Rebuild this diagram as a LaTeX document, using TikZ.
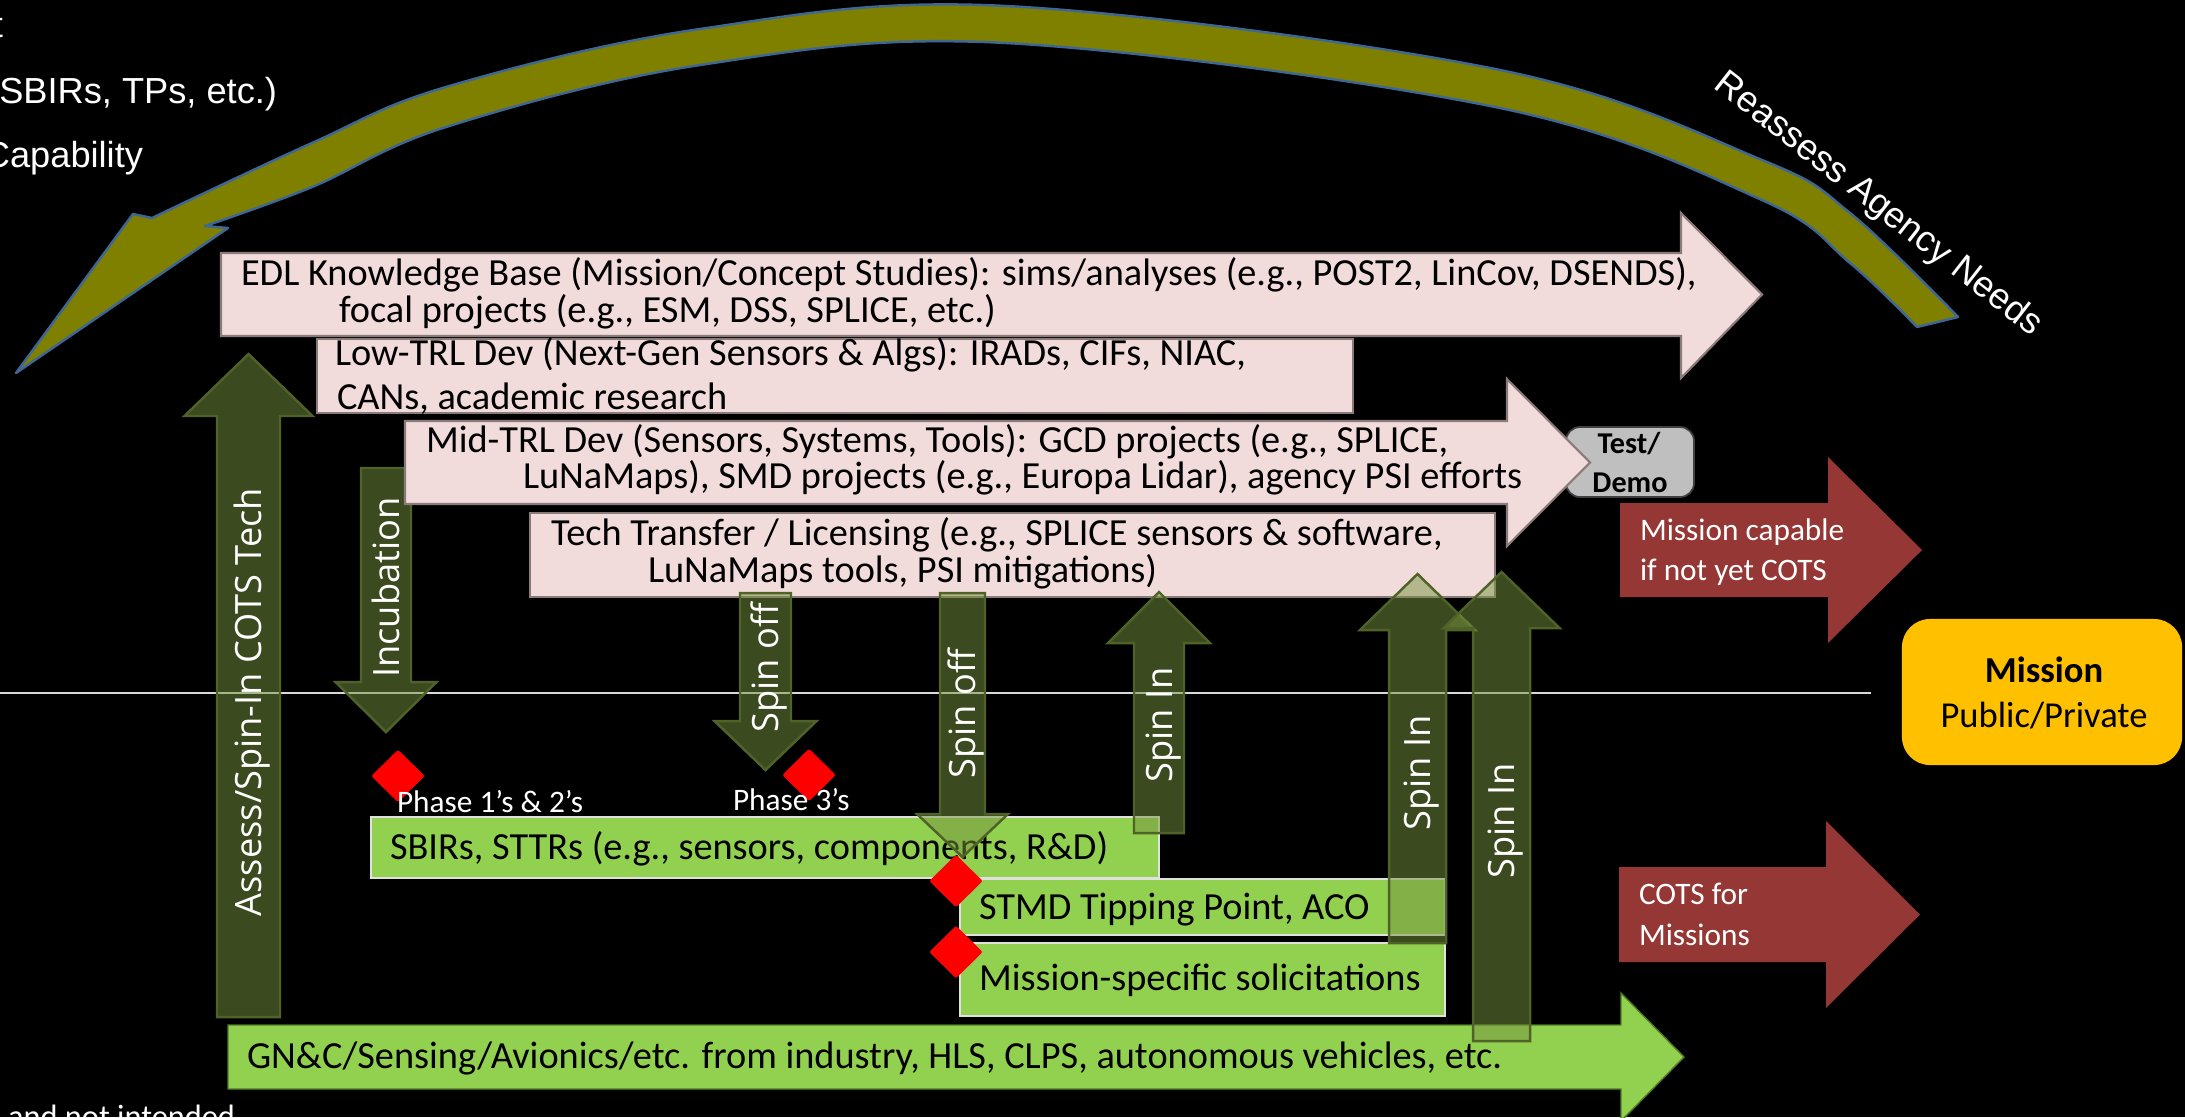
\documentclass[tikz,border=0pt]{standalone}
\usepackage{fontspec}
\setmainfont{Carlito}
\newfontfamily\arialf{Liberation Sans}
\newfontfamily\opensans{Open Sans}
\usetikzlibrary{shapes.geometric}
\definecolor{pinkf}{HTML}{F2DCDB}
\definecolor{pinkd}{HTML}{8A7A7A}
\definecolor{greenf}{HTML}{92D050}
\definecolor{greenl}{HTML}{E0E0E0}
\definecolor{greend}{HTML}{4F7A28}
\definecolor{olivef}{HTML}{78943F}
\definecolor{oliveb}{HTML}{4F6228}
\definecolor{arcf}{HTML}{808000}
\definecolor{arcb}{HTML}{3F6794}
\definecolor{redf}{HTML}{953735}
\definecolor{goldf}{HTML}{FFC000}
\definecolor{grayf}{HTML}{BFBFBF}
\definecolor{diamred}{HTML}{FF0000}
\newcommand\UpArr[7]{\path[#1] (#2-#3,#7) -- (#2-#3,#6) -- (#2-#4,#6) -- (#2,#5) -- (#2+#4,#6) -- (#2+#3,#6) -- (#2+#3,#7) -- cycle;}
\newcommand\DnArr[7]{\path[#1] (#2-#3,#5) -- (#2-#3,#6) -- (#2-#4,#6) -- (#2,#7) -- (#2+#4,#6) -- (#2+#3,#6) -- (#2+#3,#5) -- cycle;}
\newcommand\RtArr[8]{\path[#1] (#2,#3) -- (#5,#3) -- (#5,#6) -- (#8,{(#3+#4)/2}) -- (#5,#7) -- (#5,#4) -- (#2,#4) -- cycle;}
\tikzset{
 pinkbox/.style={fill=pinkf, draw=pinkd, line width=0.6pt},
 greenbox/.style={fill=greenf, draw=greenl, line width=0.6pt},
 greenarr/.style={fill=greenf, draw=greend, line width=0.4pt},
 redarr/.style={fill=redf},
 olivearr/.style={fill=olivef, fill opacity=0.5, draw=oliveb, line width=0.7pt},
 txt/.style={inner sep=0pt, outer sep=0pt, anchor=base west, font=\fontsize{10.9}{13}\selectfont},
 wtxt/.style={inner sep=0pt, outer sep=0pt, anchor=base west, text=white, font=\fontsize{8.9}{11}\selectfont},
 vlab/.style={inner sep=0pt, outer sep=0pt, anchor=base, rotate=90, text=white, font=\opensans\fontsize{10.3}{12}\selectfont},
 atxt/.style={inner sep=0pt, outer sep=0pt, anchor=base east, text=white, font=\arialf\fontsize{10.3}{12}\selectfont},
 redmark/.style={diamond, fill=diamred, inner sep=0pt, minimum width=0.54cm, minimum height=0.53cm, rounded corners=0.6pt},
}
\begin{document}
\begin{tikzpicture}[x=0.01cm, y=-0.01cm]
\useasboundingbox (0,0) rectangle (2185,1117);
\fill[black] (0,0) rectangle (2185,1117);
% divider line
\draw[white!85!black, line width=0.5pt] (0,693) -- (1871,693);
% big curved arrow
\path[fill=arcf, draw=arcb, line width=0.7pt, line join=round]
  (152,218) -- plot[smooth, tension=0.6] coordinates {(152,218) (312,143) (446,87) (700,29) (1006,6) (1500,70) (1762,160) (1850,213) (1958,317)}
  -- (1917,327)
  -- plot[smooth, tension=0.6] coordinates {(1917,327) (1850,263) (1762,200) (1500,108) (1006,43) (700,65) (446,127) (312,187) (205,226)}
  -- (228,228) -- (16,373) -- (133,214) -- cycle;
\node[atxt, anchor=center, rotate=-38] (reassess) at (1878,205) {Reassess Agency Needs};
% left cut-off texts
\node[atxt] (tcut) at (3,37) {t};
\node[atxt] (sbirtp) at (277,103) {(SBIRs, TPs, etc.)};
\node[atxt] (capab) at (143,167) {Capability};
\node[atxt, font=\fontsize{9.2}{11}\selectfont] (notint) at (235,1127) {e and not intended};
% incubation arrow (behind the mid-TRL box)
\DnArr{olivearr}{386}{25}{50.5}{468}{682}{732}
% pink items
\RtArr{pinkbox}{221}{253}{336}{1681}{213}{378}{1762}
\path[pinkbox] (317,339) rectangle (1353,413);
\node[draw=black!75, line width=0.5pt, fill=grayf, rounded corners=4pt, minimum width=1.28cm, minimum height=0.70cm, inner sep=0pt] (testdemo) at (1630,462) {};
\RtArr{pinkbox}{405}{421}{504}{1507}{379}{546}{1590}
\path[pinkbox] (530,513) rectangle (1495,597);
\node[txt] (edlA) at (241,285) {EDL Knowledge Base (Mission/Concept Studies): sims/analyses (e.g., POST2, LinCov, DSENDS),};
\node[txt] (edlB) at (339,322) {focal projects (e.g., ESM, DSS, SPLICE, etc.)};
\node[txt] (lowA) at (335,365) {Low-TRL Dev (Next-Gen Sensors \& Algs): IRADs, CIFs, NIAC,};
\node[txt] (lowB) at (337,409) {CANs, academic research};
\node[txt] (midA) at (426,452) {Mid-TRL Dev (Sensors, Systems, Tools): GCD projects (e.g., SPLICE,};
\node[txt] (midB) at (523,488) {LuNaMaps), SMD projects (e.g., Europa Lidar), agency PSI efforts};
\node[txt] (ttA) at (551,545) {Tech Transfer / Licensing (e.g., SPLICE sensors \& software,};
\node[txt] (ttB) at (648,582) {LuNaMaps tools, PSI mitigations)};
\node[inner sep=0pt, anchor=base, font=\bfseries\fontsize{8.6}{10}\selectfont] (tdA) at (1629,453) {Test/};
\node[inner sep=0pt, anchor=base, font=\bfseries\fontsize{8.6}{10}\selectfont] (tdB) at (1630,492) {Demo};
% green items
\path[greenbox] (371,817) rectangle (1159,878);
\path[greenbox] (960,879) rectangle (1445,935);
\path[greenbox] (960,943) rectangle (1445,1016);
\RtArr{greenarr}{228}{1025}{1089}{1621}{993}{1121}{1684}
\node[txt] (sbir) at (390,859) {SBIRs, STTRs (e.g., sensors, components, R\&D)};
\node[txt] (stmd) at (979,919) {STMD Tipping Point, ACO};
\node[txt] (msol) at (979,990) {Mission-specific solicitations};
\node[txt] (gnc) at (247,1068) {GN\&C/Sensing/Avionics/etc. from industry, HLS, CLPS, autonomous vehicles, etc.};
% red arrows
\RtArr{redarr}{1620}{503}{597}{1828}{457}{643}{1922}
\RtArr{redarr}{1619}{867}{962}{1826}{821}{1008}{1920}
\node[wtxt] (mcA) at (1640,540) {Mission capable};
\node[wtxt] (mcB) at (1640,580) {if not yet COTS};
\node[wtxt] (cfA) at (1639,904) {COTS for};
\node[wtxt] (cfB) at (1639,945) {Missions};
% mission box
\node[fill=goldf, rounded corners=8pt, minimum width=2.80cm, minimum height=1.46cm, inner sep=0pt] (mission) at (2042,692) {};
\node[inner sep=0pt, anchor=base, font=\bfseries\fontsize{10.4}{12}\selectfont] (misA) at (2044,682) {Mission};
\node[inner sep=0pt, anchor=base, font=\fontsize{10.4}{12}\selectfont] (misB) at (2044,727) {Public/Private};
% olive translucent arrows
\UpArr{olivearr}{248.5}{31.5}{64}{354}{416}{1017}
\DnArr{olivearr}{765.5}{25.5}{51}{593}{721}{770}
\DnArr{olivearr}{962.5}{22.5}{45.5}{593}{814}{857}
\UpArr{olivearr}{1159}{25}{51}{592}{643}{833}
\UpArr{olivearr}{1417.5}{28.5}{57.5}{574}{630}{943}
\UpArr{olivearr}{1501.5}{28.5}{58}{572}{628}{1041}
% red diamonds
\node[redmark] (d1) at (398,776) {};
\node[redmark] (d2) at (809,775) {};
\node[redmark] (d3) at (956,881) {};
\node[redmark] (d4) at (956,952) {};
\node[wtxt] (ph12) at (397,812) {Phase 1’s \& 2’s};
\node[wtxt] (ph3) at (733,810) {Phase 3’s};
% vertical labels
\node[vlab] (lAssess) at (261.5,702) {Assess/Spin-In COTS Tech};
\node[vlab] (lIncub) at (399,587.5) {Incubation};
\node[vlab] (lOff1) at (778.5,668) {Spin off};
\node[vlab] (lOff2) at (975.5,714) {Spin off};
\node[vlab] (lIn1) at (1172,725) {Spin In};
\node[vlab] (lIn2) at (1430.5,773) {Spin In};
\node[vlab] (lIn3) at (1514.5,821) {Spin In};
\end{tikzpicture}
\end{document}
